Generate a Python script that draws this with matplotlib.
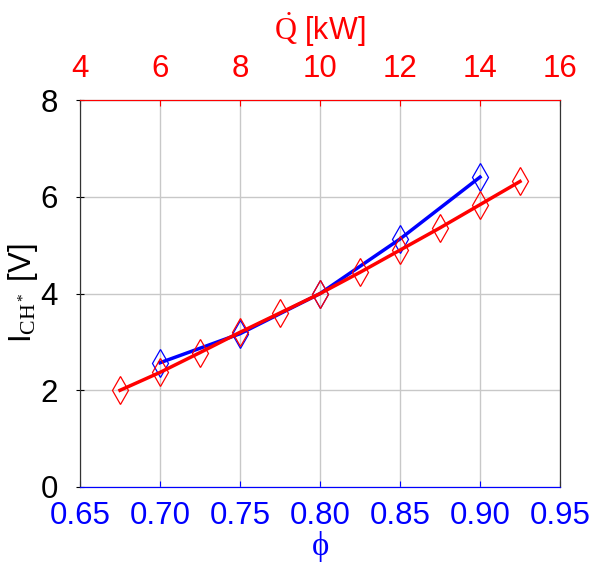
import matplotlib
matplotlib.use("Agg")
import matplotlib.pyplot as plt

plt.rcParams['font.family'] = ['Liberation Sans', 'DejaVu Sans']
plt.rcParams['mathtext.fontset'] = 'custom'
plt.rcParams['mathtext.rm'] = 'Liberation Serif'
plt.rcParams['mathtext.it'] = 'Liberation Serif:italic'

# Blue series: equivalence ratio phi (bottom axis)
phi = [0.70, 0.75, 0.80, 0.85, 0.90]
I_phi = [2.57, 3.17, 4.0, 5.13, 6.41]

# Red series: thermal power Q [kW] (top axis)
Q = [5, 6, 7, 8, 9, 10, 11, 12, 13, 14, 15]
I_Q = [2.0, 2.37, 2.78, 3.2, 3.6, 4.0, 4.44, 4.9, 5.36, 5.84, 6.32]

phi_ticks = [0.65, 0.70, 0.75, 0.80, 0.85, 0.90, 0.95]
Q_ticks = [4, 6, 8, 10, 12, 14, 16]
y_ticks = [0, 2, 4, 6, 8]

fig = plt.figure(figsize=(5.9, 5.63), dpi=100)
ax = fig.add_axes([0.1356, 0.135, 0.8136, 0.687])
fs = 22.5

ax.plot(phi, I_phi, color='blue', lw=2.5, zorder=3)
ax.plot(phi, I_phi, ls='none', marker='d', ms=14, mfc='none', mec='blue', mew=0.9, zorder=4)
ax.set_xlim(0.65, 0.95)
ax.set_ylim(0, 8)
ax.set_xticks(phi_ticks)
ax.set_xticklabels([f"{v:.2f}" for v in phi_ticks], color='blue', fontsize=fs)
ax.set_yticks(y_ticks)
ax.set_yticklabels([str(v) for v in y_ticks], fontsize=fs)
ax.grid(True, color='#c8c8c8', lw=1)
ax.tick_params(axis='x', direction='in', length=4, colors='blue', labelsize=fs, pad=10)
ax.tick_params(axis='y', direction='inout', length=6, labelsize=fs, pad=13)
ax.set_xlabel('ϕ', color='blue', fontsize=fs + 1, family=['Liberation Serif', 'DejaVu Serif'], labelpad=0)
ax.set_ylabel(r'I$_{\mathrm{CH}^*}$ [V]', fontsize=fs, labelpad=0)
ax.spines['bottom'].set_color('blue')
ax.spines['left'].set_color('#333333')
ax.spines['right'].set_color('#333333')

ax2 = ax.twiny()
ax2.plot(Q, I_Q, color='red', lw=2.5, zorder=3)
ax2.plot(Q, I_Q, ls='none', marker='d', ms=14, mfc='none', mec='red', mew=0.9, zorder=4)
ax2.set_xlim(4, 16)
ax2.set_xticks(Q_ticks)
ax2.set_xticklabels([str(v) for v in Q_ticks], color='red', fontsize=fs)
ax2.tick_params(axis='x', direction='in', length=4, colors='red', labelsize=fs, pad=12)
ax2.set_xlabel(r'$\dot{\mathrm{Q}}$ [kW]', color='red', fontsize=fs - 0.5, labelpad=10)
ax2.spines['top'].set_color('red')
ax2.spines['bottom'].set_color('blue')
ax2.spines['left'].set_color('#333333')
ax2.spines['right'].set_color('#333333')

fig.savefig('out.png', dpi=100)
